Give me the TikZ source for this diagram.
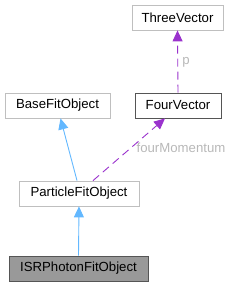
\documentclass[tikz,border=0pt]{standalone}
\usepackage{fontspec}
\setmainfont{Liberation Sans}
\usetikzlibrary{arrows.meta}
\definecolor{boxgray}{HTML}{BFBFBF}
\definecolor{darkedge}{HTML}{555555}
\definecolor{fillgray}{HTML}{999999}
\definecolor{inhblue}{HTML}{63B8FF}
\definecolor{usepurple}{HTML}{9A32CD}
\definecolor{lblgray}{HTML}{B8B8B8}
\tikzset{
  cls/.style={draw=boxgray, line width=0.8pt, fill=white, minimum height=25pt, inner sep=0pt, font=\fontsize{13.2}{15}\selectfont, text=black},
  inh/.style={draw=inhblue, line width=0.9pt, -{Triangle[length=11pt,width=10pt]}},
  usage/.style={draw=usepurple, line width=0.9pt, dash pattern=on 8pt off 5pt, -{Triangle[length=11pt,width=10pt]}},
  elbl/.style={text=lblgray, font=\fontsize{13.2}{15}\selectfont, inner sep=0pt}
}
\begin{document}
\begin{tikzpicture}[x=1pt,y=-1pt]
\useasboundingbox (0,0) rectangle (231,287);
\node[cls, minimum width=91pt] (three) at (177.5,17.5) {ThreeVector};
\node[cls, minimum width=86pt, draw=darkedge] (four) at (178,105.5) {FourVector};
\node[cls, minimum width=105pt] (base) at (57.5,105.5) {BaseFitObject};
\node[cls, minimum width=120pt] (pfo) at (79,193.5) {ParticleFitObject};
\node[cls, minimum width=139pt, fill=fillgray, draw=darkedge] (isr) at (78.5,268.5) {ISRPhotonFitObject};
\draw[inh] (isr.north) -- (pfo.south);
\draw[inh] ([xshift=-2pt]pfo.north) -- ([xshift=3pt]base.south);
\draw[usage] ([xshift=14pt]pfo.north) -- ([xshift=-13pt]four.south);
\draw[usage] (four.north) -- (three.south);
\node[elbl] (lfour) at (181,148) {fourMomentum};
\node[elbl] (lp) at (186,62) {p};
\end{tikzpicture}
\end{document}
